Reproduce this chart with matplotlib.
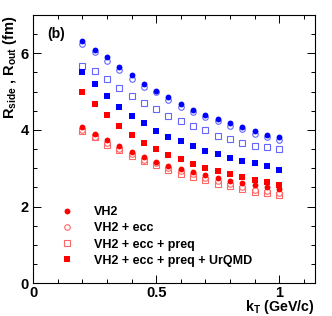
import matplotlib
matplotlib.use("Agg")
import matplotlib.pyplot as plt
from matplotlib.ticker import MultipleLocator

plt.rcParams['font.family'] = ['Liberation Sans', 'DejaVu Sans']
plt.rcParams['font.weight'] = 'bold'
plt.rcParams['mathtext.fontset'] = 'custom'
plt.rcParams['mathtext.bf'] = 'Liberation Sans:bold'
plt.rcParams['mathtext.rm'] = 'Liberation Sans:bold'
plt.rcParams['mathtext.default'] = 'bf'

kt = [0.20, 0.25, 0.30, 0.35, 0.40, 0.45, 0.50, 0.55, 0.60,
      0.65, 0.70, 0.75, 0.80, 0.85, 0.90, 0.95, 1.00]

# R_out (blue)
out_vh2 = [6.32, 6.10, 5.90, 5.65, 5.43, 5.20, 5.01, 4.85, 4.68,
           4.53, 4.40, 4.29, 4.18, 4.07, 3.97, 3.88, 3.81]
out_ecc = [6.25, 6.03, 5.80, 5.56, 5.34, 5.11, 4.98, 4.78, 4.59,
           4.48, 4.34, 4.24, 4.10, 4.03, 3.90, 3.83, 3.74]
out_preq = [5.68, 5.55, 5.32, 5.10, 4.89, 4.70, 4.56, 4.36, 4.24,
            4.11, 3.99, 3.85, 3.76, 3.67, 3.59, 3.56, 3.51]
out_urqmd = [5.52, 5.20, 4.89, 4.60, 4.36, 4.18, 3.98, 3.83, 3.71,
             3.58, 3.45, 3.37, 3.27, 3.20, 3.14, 3.06, 2.96]

# R_side (red)
side_vh2 = [4.08, 3.90, 3.73, 3.57, 3.43, 3.30, 3.17, 3.07, 2.98,
            2.90, 2.82, 2.75, 2.68, 2.62, 2.56, 2.51, 2.47]
side_ecc = [4.01, 3.83, 3.65, 3.50, 3.37, 3.22, 3.13, 3.02, 2.92,
            2.84, 2.75, 2.66, 2.60, 2.52, 2.43, 2.41, 2.36]
side_preq = [3.98, 3.81, 3.62, 3.47, 3.31, 3.18, 3.09, 2.96, 2.85,
             2.78, 2.69, 2.60, 2.54, 2.46, 2.38, 2.36, 2.31]
side_urqmd = [4.98, 4.67, 4.38, 4.10, 3.87, 3.66, 3.51, 3.35, 3.24,
              3.11, 3.02, 2.94, 2.84, 2.78, 2.70, 2.63, 2.56]

labels = ["VH2", "VH2 + ecc", "VH2 + ecc + preq", "VH2 + ecc + preq + UrQMD"]

fig = plt.figure(figsize=(3.32, 3.16), dpi=100)
ax = fig.add_axes([0.0994, 0.1035, 0.8494, 0.849])

blue = (0, 0, 1)
red = (1, 0, 0)
light_blue = (0.4, 0.4, 1)
light_red = (1, 0.4, 0.4)


def draw(series, col, light):
    vh2, ecc, preq, urqmd = series
    h = []
    h += ax.plot(kt, preq, ls='none', marker='s', ms=3.8, mfc='white',
                 mec=light, mew=0.8)
    h += ax.plot(kt, ecc, ls='none', marker='o', ms=4.0, mfc='white',
                 mec=light, mew=0.8)
    h += ax.plot(kt, vh2, ls='none', marker='o', ms=4.2, mfc=col, mec=col,
                 mew=0)
    h += ax.plot(kt, urqmd, ls='none', marker='s', ms=4.0, mfc=col, mec=col,
                 mew=0)
    return [h[2], h[1], h[0], h[3]]


draw([out_vh2, out_ecc, out_preq, out_urqmd], blue, light_blue)
hs = draw([side_vh2, side_ecc, side_preq, side_urqmd], red, light_red)

ax.legend(hs, labels, loc='upper left', bbox_to_anchor=(0.078, 0.287),
          frameon=False, handlelength=2.0, handletextpad=1.1,
          borderpad=0, borderaxespad=0, labelspacing=0.33,
          prop={'weight': 'bold', 'size': 9})

ax.set_xlim(0, 1.145)
ax.set_ylim(0, 7)
ax.xaxis.set_major_locator(MultipleLocator(0.5))
ax.xaxis.set_minor_locator(MultipleLocator(0.1))
ax.yaxis.set_major_locator(MultipleLocator(2))
ax.yaxis.set_minor_locator(MultipleLocator(0.5))
ax.set_xticks([0, 0.5, 1])
ax.set_xticklabels(["0", "0.5", "1"])
ax.tick_params(which='both', direction='in', top=True, right=True,
               labelsize=10.5, width=0.7)
ax.tick_params(which='major', length=6, pad=3)
ax.tick_params(axis='x', which='major', pad=2)
ax.tick_params(which='minor', length=3)
for lab in ax.get_xticklabels() + ax.get_yticklabels():
    lab.set_fontweight('bold')

ax.set_xlabel(r"k$_{\mathbf{T}}$ (GeV/c)", loc='right', fontsize=10.3,
              fontweight='bold', labelpad=-1.2)
ax.set_ylabel(r"R$_{\mathbf{side}}$ , R$_{\mathbf{out}}$ (fm)", loc='top',
              fontsize=10.5, fontweight='bold', labelpad=1)
ax.text(0.05, 0.93, "(b)", transform=ax.transAxes, fontsize=10,
        fontweight='bold', va='center', ha='left')

fig.savefig("out.png", dpi=100)
